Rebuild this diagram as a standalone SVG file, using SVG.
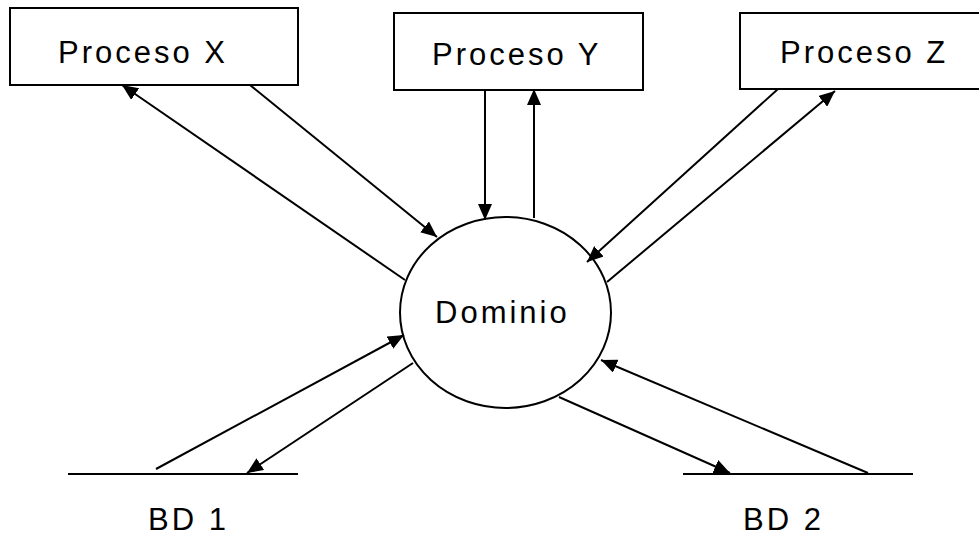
<svg xmlns="http://www.w3.org/2000/svg" width="979" height="550" viewBox="0 0 979 550">
<style>
.box{fill:#fff;stroke:#000;stroke-width:2}
.lbl{font-family:"Liberation Sans",Arial,sans-serif;font-size:31px;letter-spacing:3px;fill:#000}
.ln{stroke:#000;stroke-width:2;fill:none}
.arr{stroke:#000;stroke-width:2;fill:none;marker-end:url(#ah)}
</style>
<defs>
<marker id="ah" markerUnits="userSpaceOnUse" viewBox="0 0 16 14" refX="16" refY="7" markerWidth="16" markerHeight="14" orient="auto">
<path d="M0,0 L16,7 L0,14 z" fill="#000"/>
</marker>
</defs>
<g id="procesoX"><rect class="box" x="10" y="8" width="288" height="77"/><text class="lbl" x="58" y="63">Proceso X</text></g>
<g id="procesoY"><rect class="box" x="394" y="13" width="249" height="77"/><text class="lbl" x="432" y="65">Proceso Y</text></g>
<g id="procesoZ"><rect class="box" x="740" y="13" width="250" height="76"/><text class="lbl" x="780" y="63">Proceso Z</text></g>
<g id="dominio"><ellipse class="box" cx="505.5" cy="312.5" rx="105.5" ry="95.5"/><text class="lbl" x="435" y="323">Dominio</text></g>
<g id="bd1"><line class="ln" x1="68" y1="474" x2="298" y2="474"/><text class="lbl" x="148" y="530">BD 1</text></g>
<g id="bd2"><line class="ln" x1="683" y1="474" x2="913" y2="474"/><text class="lbl" x="743" y="530">BD 2</text></g>
<g id="connectors">
<line class="arr" x1="405" y1="280" x2="122" y2="85"/>
<line class="arr" x1="250" y1="85" x2="437" y2="237"/>
<line class="arr" x1="485" y1="90" x2="485" y2="220"/>
<line class="arr" x1="534" y1="218" x2="534" y2="89"/>
<line class="arr" x1="778" y1="89" x2="587" y2="262"/>
<line class="arr" x1="607" y1="282" x2="835" y2="91"/>
<line class="arr" x1="156" y1="469" x2="404" y2="335"/>
<line class="arr" x1="413" y1="363" x2="247" y2="473"/>
<line class="arr" x1="559" y1="397" x2="730" y2="473"/>
<line class="arr" x1="868" y1="473" x2="601" y2="360"/>
</g>
</svg>
